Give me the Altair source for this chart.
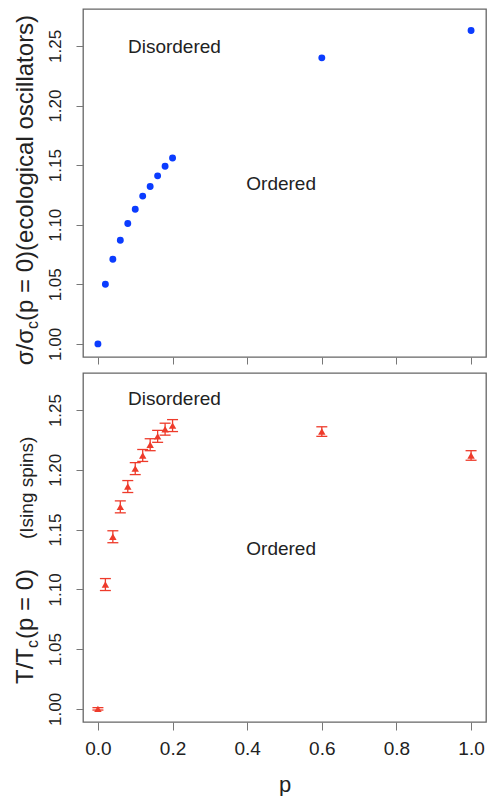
import altair as alt
import pandas as pd

# ---- data ----
p_vals = [0.0, 0.02, 0.04, 0.06, 0.08, 0.10, 0.12, 0.14, 0.16, 0.18, 0.20, 0.6, 1.0]
sigma_ratio = [1.000, 1.050, 1.071, 1.087, 1.101, 1.113, 1.124, 1.132, 1.141, 1.149, 1.156, 1.240, 1.263]
ising_ratio = [1.000, 1.104, 1.144, 1.169, 1.186, 1.201, 1.212, 1.221, 1.228, 1.234, 1.237, 1.232, 1.212]
ising_err = [0.001, 0.005, 0.005, 0.005, 0.005, 0.005, 0.005, 0.005, 0.005, 0.005, 0.005, 0.004, 0.004]

region_labels = ["Disordered", "Ordered"]
top_label_p = [0.205, 0.491]
top_label_y = [1.249, 1.134]
bot_label_p = [0.205, 0.491]
bot_label_y = [1.259, 1.134]

x_ticks = [0.0, 0.2, 0.4, 0.6, 0.8, 1.0]
y_ticks = [1.00, 1.05, 1.10, 1.15, 1.20, 1.25]
x_domain = [-0.04, 1.04]
y_domain = [0.989, 1.281]

BLUE = "#0b3cff"
RED = "#ee3b2b"
FONT = "Liberation Sans"
W = 403
H1 = 348
H2 = 349

top_df = pd.DataFrame({"p": p_vals, "v": sigma_ratio})
bot_df = pd.DataFrame({
    "p": p_vals,
    "v": ising_ratio,
    "lo": [v - e for v, e in zip(ising_ratio, ising_err)],
    "hi": [v + e for v, e in zip(ising_ratio, ising_err)],
})
top_lab = pd.DataFrame({"t": region_labels, "p": top_label_p, "v": top_label_y})
bot_lab = pd.DataFrame({"t": region_labels, "p": bot_label_p, "v": bot_label_y})

yaxis = alt.Axis(values=y_ticks, format=".2f", title="", grid=False, domain=False,
                 tickSize=7, tickColor="#777", labelAngle=270, labelAlign="center",
                 labelBaseline="bottom", labelPadding=12, labelFontSize=17,
                 labelColor="#222", labelFont=FONT)
xaxis_top = alt.Axis(values=x_ticks, title="", grid=False, domain=False, labels=False,
                     tickSize=7, tickColor="#777")
xaxis_bot = alt.Axis(values=x_ticks, format=".1f", title="p", grid=False, domain=False,
                     tickSize=8, tickColor="#777", labelPadding=9, labelFontSize=19,
                     labelColor="#222", labelFont=FONT, titleFontSize=22,
                     titleFont=FONT, titleFontWeight="normal", titleColor="#222",
                     titlePadding=16)

xs = alt.Scale(domain=x_domain, nice=False, zero=False)
ys = alt.Scale(domain=y_domain, nice=False, zero=False)


def title_piece(text, x, y, size, align):
    return alt.Chart(pd.DataFrame({"t": [text]})).mark_text(
        angle=270, align=align, baseline="alphabetic", fontSize=size,
        font=FONT, color="#222"
    ).encode(text="t:N", x=alt.value(x), y=alt.value(y))


# ---- top panel ----
top_pts = alt.Chart(top_df).mark_point(filled=True, shape="circle", size=48,
                                       color=BLUE, opacity=1).encode(
    x=alt.X("p:Q", scale=xs, axis=xaxis_top),
    y=alt.Y("v:Q", scale=ys, axis=yaxis),
)
top_txt = alt.Chart(top_lab).mark_text(fontSize=19, font=FONT, color="#222",
                                       baseline="middle").encode(
    x=alt.X("p:Q", scale=xs), y=alt.Y("v:Q", scale=ys), text="t:N")
top = alt.layer(
    top_pts, top_txt,
    title_piece("σ/σ", -50, 320, 24, "right"),
    title_piece("c", -45, 320, 16, "left"),
    title_piece("(p = 0)(ecological oscillators)", -50, 312, 24, "left"),
).properties(width=W, height=H1)

# ---- bottom panel ----
bot_rule = alt.Chart(bot_df).mark_rule(color=RED, strokeWidth=1.3).encode(
    x=alt.X("p:Q", scale=xs, axis=xaxis_bot),
    y=alt.Y("lo:Q", scale=ys, axis=yaxis),
    y2="hi:Q",
)
cap_hi = alt.Chart(bot_df).mark_tick(orient="horizontal", size=11, thickness=1.3,
                                     color=RED, opacity=1).encode(
    x=alt.X("p:Q", scale=xs), y=alt.Y("hi:Q", scale=ys))
cap_lo = alt.Chart(bot_df).mark_tick(orient="horizontal", size=11, thickness=1.3,
                                     color=RED, opacity=1).encode(
    x=alt.X("p:Q", scale=xs), y=alt.Y("lo:Q", scale=ys))
bot_pts = alt.Chart(bot_df).mark_point(filled=True, shape="triangle-up", size=55,
                                       color=RED, opacity=1).encode(
    x=alt.X("p:Q", scale=xs), y=alt.Y("v:Q", scale=ys))
bot_txt = alt.Chart(bot_lab).mark_text(fontSize=19, font=FONT, color="#222",
                                       baseline="middle").encode(
    x=alt.X("p:Q", scale=xs), y=alt.Y("v:Q", scale=ys), text="t:N")
bot = alt.layer(
    bot_rule, cap_hi, cap_lo, bot_pts, bot_txt,
    title_piece("T/T", -50, 275, 24, "right"),
    title_piece("c", -45, 275, 16, "left"),
    title_piece("(p = 0)", -50, 266, 24, "left"),
    title_piece("(Ising spins)", -50, 166, 19, "left"),
).properties(width=W, height=H2)

chart = alt.vconcat(top, bot, spacing=6).properties(
    padding={"left": 13, "top": 8, "right": 0, "bottom": 0},
    background="white",
).configure_view(stroke="#666", strokeWidth=1.3)

chart.save("out.html", embed_options={"renderer": "svg", "actions": False})
